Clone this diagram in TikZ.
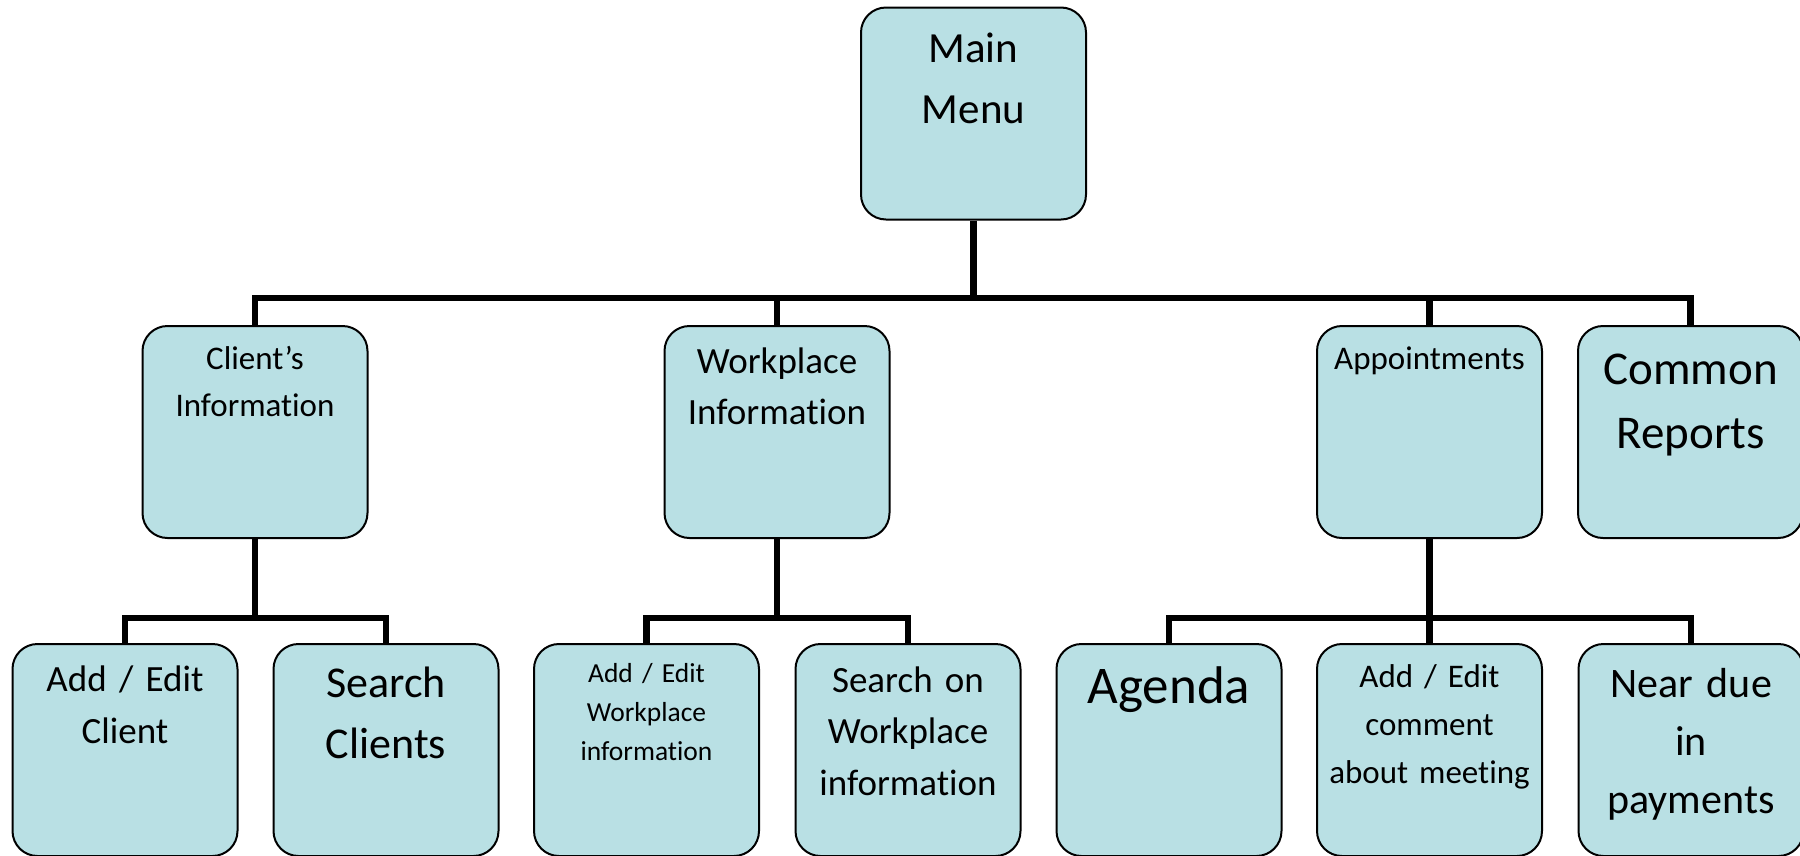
\documentclass[tikz,border=0pt]{standalone}
\usepackage{fontspec}
\setmainfont{Carlito}[Ligatures=NoCommon, WordSpace=0.75]
\definecolor{boxfill}{RGB}{185,224,228}
\tikzset{
  box/.style={draw=black, line width=2pt, fill=boxfill, rounded corners=25pt,
              minimum width=225pt, minimum height=212pt, inner sep=0pt},
  lbl/.style={anchor=base, text width=224pt, align=center, inner sep=0pt},
  conn/.style={line width=6.5pt, draw=black},
}
\begin{document}
\begin{tikzpicture}[x=1pt,y=1pt]
\useasboundingbox (0,0) rectangle (1800,-855);
% level 1
\node[box] (main) at (973.5,-113.5) {};
% level 2
\node[box] (ci) at (255,-432) {};
\node[box] (wi) at (777,-432) {};
\node[box] (ap) at (1429.5,-432) {};
\node[box] (cr) at (1690.5,-432) {};
% level 3
\node[box] (ac) at (125,-750) {};
\node[box] (sc) at (386,-750) {};
\node[box] (aw) at (646.5,-750) {};
\node[box] (sw) at (908,-750) {};
\node[box] (ag) at (1169,-750) {};
\node[box] (ae) at (1429.5,-750) {};
\node[box] (nd) at (1691,-750) {};
% labels
\node[lbl, font=\fontsize{43}{61}\selectfont] (tmain) at (973.5,-62) {Main\\Menu};
\node[lbl, font=\fontsize{33}{47}\selectfont] (tci) at (255,-369) {Client’s\\Information};
\node[lbl, font=\fontsize{37}{51}\selectfont] (twi) at (777,-373) {Workplace\\Information};
\node[lbl, font=\fontsize{33}{47}\selectfont] (tap) at (1429.5,-369) {Appointments};
\node[lbl, font=\fontsize{47}{64}\selectfont] (tcr) at (1690.5,-384) {Common\\Reports};
\node[lbl, font=\fontsize{37}{52}\selectfont] (tac) at (125,-691) {Add / Edit\\Client};
\node[lbl, font=\fontsize{44}{61}\selectfont] (tsc) at (386,-697) {Search\\Clients};
\node[lbl, font=\fontsize{27.5}{39}\selectfont] (taw) at (646.5,-682) {Add / Edit\\Workplace\\information};
\node[lbl, font=\fontsize{37}{51.5}\selectfont] (tsw) at (908,-692) {Search on\\Workplace\\information};
\node[lbl, font=\fontsize{53}{64}\selectfont] (tag) at (1169,-703) {Agenda};
\node[lbl, font=\fontsize{33}{48}\selectfont] (tae) at (1429.5,-687) {Add / Edit\\comment\\about meeting};
\node[lbl, font=\fontsize{42}{58}\selectfont] (tnd) at (1691,-697) {Near due\\in\\payments};
% connectors
\coordinate (b1) at (973.5,-298);
\draw[conn] (main.south) -- (b1);
\draw[conn] (ci.north) |- (b1) -| (cr.north);
\draw[conn] (wi.north) -- (wi.north |- b1);
\draw[conn] (ap.north) -- (ap.north |- b1);
\coordinate (b2) at (255,-618);
\draw[conn] (ci.south) -- (b2);
\draw[conn] (ac.north) |- (b2) -| (sc.north);
\coordinate (b3) at (777,-618);
\draw[conn] (wi.south) -- (b3);
\draw[conn] (aw.north) |- (b3) -| (sw.north);
\coordinate (b4) at (1429.5,-618);
\draw[conn] (ap.south) -- (b4);
\draw[conn] (ag.north) |- (b4) -| (nd.north);
\draw[conn] (ae.north) -- (b4);
\end{tikzpicture}
\end{document}
